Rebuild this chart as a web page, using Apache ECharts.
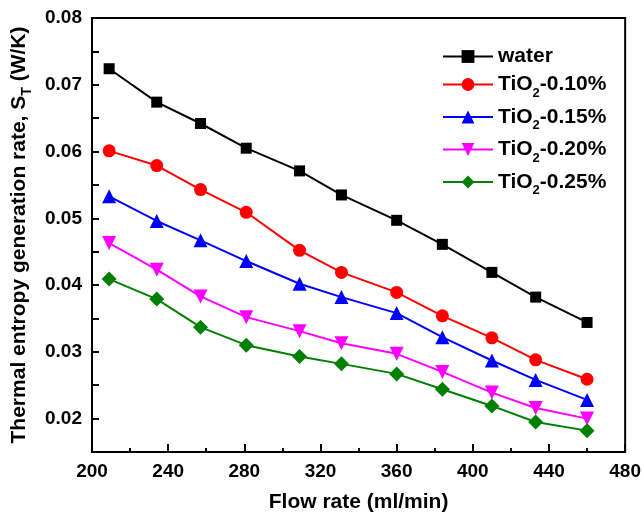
<!DOCTYPE html>
<html>
<head>
<meta charset="utf-8" />
<title>Thermal entropy generation rate</title>
<style>
  html, body, #chart { width: 100%; height: 100%; margin: 0; overflow: hidden; background: #fff; }
</style>
</head>
<body>
<div id="chart"></div>
<script src="https://cdn.jsdelivr.net/npm/echarts@6/dist/echarts.min.js"></script>
<script>
// flow rate (ml/min)
var flowRate = [209, 234, 257, 281, 309, 331, 360, 384, 410, 433, 460];
// thermal entropy generation rate (W/K)
var water  = [0.0724, 0.0674, 0.0642, 0.0605, 0.0571, 0.0535, 0.0497, 0.0461, 0.0419, 0.0382, 0.0344];
var tio010 = [0.0601, 0.0579, 0.0543, 0.0509, 0.0452, 0.0419, 0.0389, 0.0354, 0.0321, 0.0288, 0.0259];
var tio015 = [0.0533, 0.0496, 0.0467, 0.0436, 0.0402, 0.0382, 0.0358, 0.0322, 0.0287, 0.0258, 0.0228];
var tio020 = [0.0463, 0.0423, 0.0383, 0.0352, 0.0331, 0.0313, 0.0297, 0.0270, 0.0239, 0.0216, 0.0200];
var tio025 = [0.0409, 0.0379, 0.0337, 0.0310, 0.0293, 0.0282, 0.0267, 0.0244, 0.0219, 0.0195, 0.0182];

var seriesNames = ['water', 'TiO2-0.10%', 'TiO2-0.15%', 'TiO2-0.20%', 'TiO2-0.25%'];
var xTickLabels = [200, 240, 280, 320, 360, 400, 440, 480];
var yTickLabels = [0.02, 0.03, 0.04, 0.05, 0.06, 0.07, 0.08];

var font = 'Liberation Sans, Arial, sans-serif';

function pairs(ys) {
  return ys.map(function (y, i) { return [flowRate[i], y]; });
}

function mkSeries(name, ys, color, symbol, size, rotate) {
  return {
    name: name,
    type: 'line',
    data: pairs(ys),
    symbol: symbol,
    symbolSize: size,
    symbolRotate: rotate || 0,
    showSymbol: true,
    lineStyle: { color: color, width: 2 },
    itemStyle: { color: color, borderWidth: 0 },
    emphasis: { disabled: true },
    z: 3
  };
}

var chart = echarts.init(document.getElementById('chart'));

var option = {
  backgroundColor: '#fff',
  animation: false,
  textStyle: { fontFamily: font, fontWeight: 'bold', color: '#000' },
  grid: {
    left: 92, right: 17, top: 18, bottom: 68,
    show: true, borderColor: '#000', borderWidth: 2
  },
  legend: {
    orient: 'vertical',
    left: 437, top: 41,
    itemWidth: 50, itemHeight: 16, itemGap: 7,
    data: seriesNames,
    textStyle: {
      fontFamily: font, fontWeight: 'bold', fontSize: 21, color: '#000',
      rich: {
        n: { fontFamily: font, fontWeight: 'bold', fontSize: 21, lineHeight: 22, color: '#000' },
        s: { fontFamily: font, fontWeight: 'bold', fontSize: 13, lineHeight: 13, verticalAlign: 'bottom', padding: [0, 0, -4, 0], color: '#000' }
      }
    },
    formatter: function (name) {
      if (name.indexOf('TiO2') === 0) {
        return '{n|TiO}{s|2}{n|' + name.slice(4) + '}';
      }
      return '{n|' + name + '}';
    }
  },
  xAxis: {
    type: 'value',
    min: 200, max: 480, interval: 40,
    name: 'Flow rate (ml/min)',
    nameLocation: 'middle',
    nameGap: 40,
    nameTextStyle: { fontFamily: font, fontWeight: 'bold', fontSize: 21, color: '#000' },
    axisLine: { show: true, lineStyle: { color: '#000', width: 2 } },
    axisTick: { show: true, inside: true, length: 8, lineStyle: { color: '#000', width: 2 } },
    minorTick: { show: true, splitNumber: 2, length: 4, lineStyle: { color: '#000', width: 2 } },
    axisLabel: {
      fontFamily: font, fontWeight: 'bold', fontSize: 19, color: '#000', margin: 10,
      formatter: function (v) { return xTickLabels.indexOf(v) >= 0 ? String(v) : ''; }
    },
    splitLine: { show: false }
  },
  yAxis: {
    type: 'value',
    min: 0.015, max: 0.08, interval: 0.005,
    name: '{n|Thermal entropy generation rate, S}{s|T}{n| (W/K)}',
    nameLocation: 'middle',
    nameGap: 62,
    nameTextStyle: {
      fontFamily: font, fontWeight: 'bold', fontSize: 21, color: '#000',
      rich: {
        n: { fontFamily: font, fontWeight: 'bold', fontSize: 21, lineHeight: 22, color: '#000' },
        s: { fontFamily: font, fontWeight: 'bold', fontSize: 14, lineHeight: 14, verticalAlign: 'bottom', padding: [0, 0, -4, 0], color: '#000' }
      }
    },
    axisLine: { show: true, lineStyle: { color: '#000', width: 2 } },
    axisTick: { show: true, inside: true, length: 7, lineStyle: { color: '#000', width: 2 } },
    axisLabel: {
      fontFamily: font, fontWeight: 'bold', fontSize: 19, color: '#000', margin: 10,
      showMinLabel: true,
      formatter: function (v) {
        var r = Math.round(v * 100) / 100;
        for (var i = 0; i < yTickLabels.length; i++) {
          if (Math.abs(yTickLabels[i] - v) < 1e-6) return r.toFixed(2);
        }
        return '';
      }
    },
    splitLine: { show: false }
  },
  series: [
    mkSeries(seriesNames[0], water,  '#000000', 'rect', 11),
    mkSeries(seriesNames[1], tio010, '#ff0000', 'circle', 13),
    mkSeries(seriesNames[2], tio015, '#0000ff', 'triangle', 14),
    mkSeries(seriesNames[3], tio020, '#ff00ff', 'triangle', 14, 180),
    mkSeries(seriesNames[4], tio025, '#008000', 'diamond', 15)
  ]
};

chart.setOption(option);
</script>
</body>
</html>
